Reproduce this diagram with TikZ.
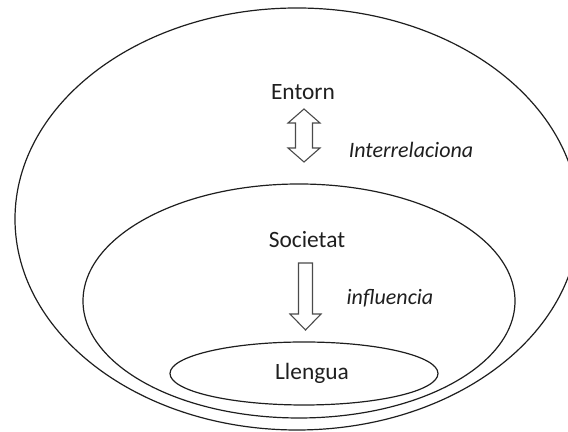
\documentclass[tikz,border=0pt]{standalone}
\usepackage{fontspec}
\setmainfont{Carlito}
\usepackage{tikz}
\usepackage{xcolor}
\usetikzlibrary{positioning,calc}
\definecolor{ringInk}{HTML}{1E1E1E}
\definecolor{arrowInk}{HTML}{4A4A4A}
\definecolor{textInk}{HTML}{1F1F1F}
\tikzset{
  ringLine/.style={draw=ringInk, line width=0.6pt},
  blockArrow/.style={draw=arrowInk, line width=0.55pt, fill=white, line join=miter},
  levelLabel/.style={font=\fontsize{11.7}{14}\selectfont, text=textInk, inner sep=1pt},
  verbLabel/.style={font=\fontsize{11}{13}\selectfont\itshape, text=textInk, inner sep=1pt}
}

\begin{document}
\begin{tikzpicture}[x=0.5pt,y=0.5pt]
  \useasboundingbox (0,0) rectangle (568,432);
  \clip (0,0) rectangle (568,432);
  % nested rings
  \draw[ringLine] (297,213) ellipse [x radius=282, y radius=211];
  \draw[ringLine] (299,131) ellipse [x radius=216, y radius=117];
  \draw[ringLine] (304,58.5) ellipse [x radius=134, y radius=31.5];
  % levels
  \node[levelLabel] (entorn) at (303,340) {Entorn};
  \node[levelLabel] (societat) at (307,192) {Societat};
  \node[levelLabel] (llengua) at (312,59) {Llengua};
  % relations
  \coordinate (interTop) at (304,323);
  \coordinate (inflTop) at (298.5,169);
  \draw[blockArrow] (interTop) -- ++(16,-14) -- ++(-7.5,0) -- ++(0,-25) -- ++(7.5,0)
    -- ++(-16,-14) -- ++(-16,14) -- ++(7.5,0) -- ++(0,25) -- ++(-7.5,0) -- cycle;
  \draw[blockArrow] (inflTop) -- ++(14,0) -- ++(0,-51) -- ++(8.5,0) -- ++(-15.5,-16)
    -- ++(-15.5,16) -- ++(8.5,0) -- cycle;
  \node[verbLabel] (interrel) at (411,282) {Interrelaciona};
  \node[verbLabel] (influ) at (390,134) {influencia};
\end{tikzpicture}
\end{document}
